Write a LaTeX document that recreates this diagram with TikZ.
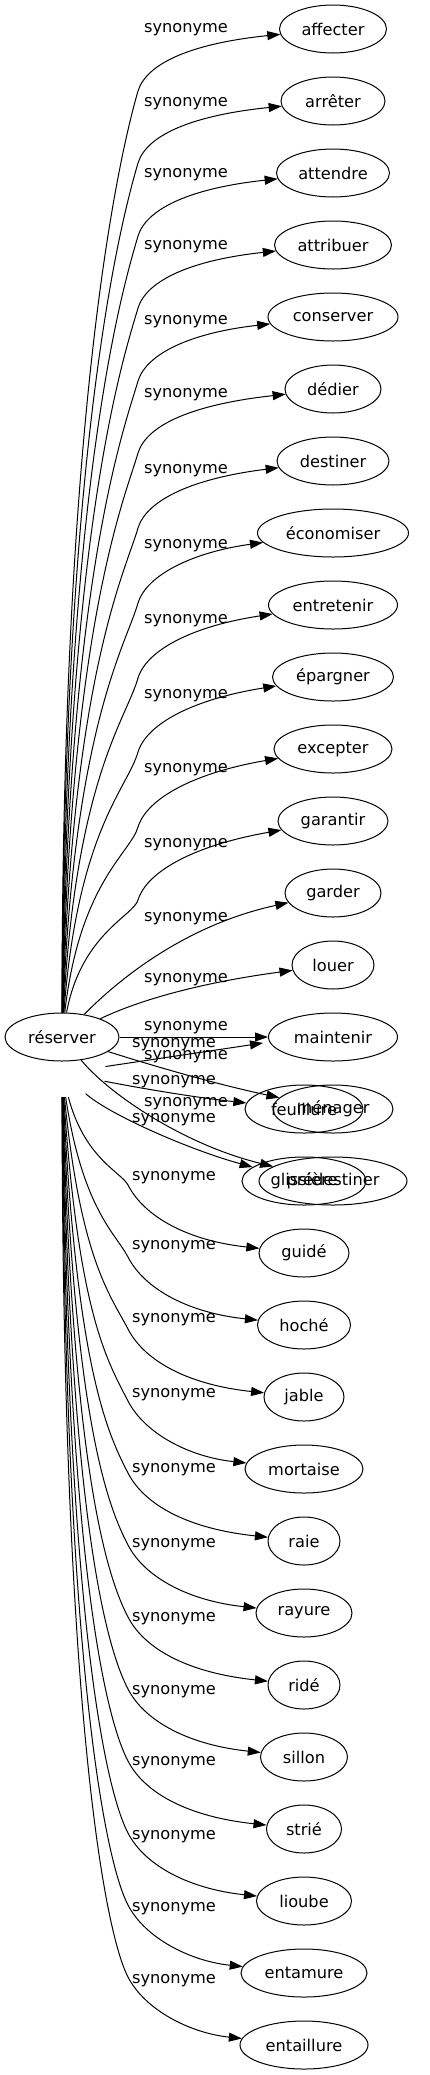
\documentclass[tikz,border=0pt]{standalone}
\usepackage{fontspec}
\setmainfont{DejaVu Sans}
\usetikzlibrary{arrows.meta,shapes.geometric}
\tikzset{
  word/.style={draw, ellipse, minimum height=48pt, inner sep=0pt, line width=1pt,
    font=\fontsize{16.2}{19}\selectfont},
  lab/.style={anchor=base, inner sep=0pt, font=\fontsize{16.2}{19}\selectfont},
  syn/.style={line width=1pt, -{Triangle[length=13pt,width=9pt]}},
}
% upper fan: target, target y, knee shift
\newcommand\synA[3]{%
  \pgfmathsetmacro\kY{#2+62+#3}%
  \pgfmathsetmacro\hH{1013-\kY}%
  \pgfmathsetmacro\fF{min(1,\hH/300)}%
  \pgfmathsetmacro\pX{62+max(0,22*(1-\hH/900))}%
  \pgfmathsetmacro\pY{1013-0.7*\hH}%
  \pgfmathsetmacro\qX{138-12*\fF}%
  \pgfmathsetmacro\qY{\kY+42*\fF}%
  \pgfmathsetmacro\rY{#2+33+#3}%
  \pgfmathsetmacro\sY{#2+14+0.6*#3}%
  \draw[syn] (r) .. controls (\pX,\pY) and (\qX,\qY) .. (138,\kY) .. controls (147,\rY) and (195,\sY) .. (#1);%
}
% lower fan: target, target y
\newcommand\synB[2]{%
  \pgfmathsetmacro\kY{#2-68}%
  \pgfmathsetmacro\hH{\kY-1097}%
  \pgfmathsetmacro\fF{min(1,\hH/300)}%
  \pgfmathsetmacro\pX{62+max(0,25*(1-\hH/900))}%
  \pgfmathsetmacro\pY{1097+0.7*\hH}%
  \pgfmathsetmacro\qX{128-23*\fF}%
  \pgfmathsetmacro\qY{\kY-44*\fF}%
  \pgfmathsetmacro\rY{#2-35}%
  \pgfmathsetmacro\sY{#2-12}%
  \draw[syn] (src2) .. controls (\pX,\pY) and (\qX,\qY) .. (128,\kY) .. controls (145,\rY) and (190,\sY) .. (#1);%
}
\begin{document}
\begin{tikzpicture}[x=1pt,y=-1pt]
\useasboundingbox (0,0) rectangle (429,2075);

% source nodes
\node[word, minimum width=114pt] (r) at (62,1037) {réserver};
\node[ellipse, minimum width=90pt, minimum height=48pt, inner sep=0pt] (src2) at (62,1073) {};
\coordinate (bx) at (263,1043);

% first group of targets
\node[word, minimum width=107pt] (a0) at (333,29) {affecter};
\node[word, minimum width=104pt] (a1) at (333,101) {arrêter};
\node[word, minimum width=113pt] (a2) at (333,173) {attendre};
\node[word, minimum width=117pt] (a3) at (333,245) {attribuer};
\node[word, minimum width=130pt] (a4) at (333,317) {conserver};
\node[word, minimum width=96pt] (a5) at (333,389) {dédier};
\node[word, minimum width=112pt] (a6) at (333,461) {destiner};
\node[word, minimum width=151pt] (a7) at (333,533) {économiser};
\node[word, minimum width=129pt] (a8) at (333,605) {entretenir};
\node[word, minimum width=121pt] (a9) at (333,677) {épargner};
\node[word, minimum width=118pt] (a10) at (333,749) {excepter};
\node[word, minimum width=110pt] (a11) at (333,821) {garantir};
\node[word, minimum width=96pt] (a12) at (333,893) {garder};
\node[word, minimum width=82pt] (a13) at (333,965) {louer};
\node[word, minimum width=129pt] (a14) at (333,1037) {maintenir};
\node[word, minimum width=120pt] (a15) at (333,1109) {ménager};
\node[word, minimum width=148pt] (a16) at (333,1181) {prédestiner};

% second group of targets
\node[word, minimum width=118pt] (b15) at (304,1109) {feuillure};
\node[word, minimum width=124pt] (b16) at (304,1181) {glissière};
\node[word, minimum width=90pt] (b17) at (304,1253) {guidé};
\node[word, minimum width=93pt] (b18) at (304,1325) {hoché};
\node[word, minimum width=80pt] (b19) at (304,1397) {jable};
\node[word, minimum width=118pt] (b20) at (304,1469) {mortaise};
\node[word, minimum width=72pt] (b21) at (304,1541) {raie};
\node[word, minimum width=96pt] (b22) at (304,1613) {rayure};
\node[word, minimum width=72pt] (b23) at (304,1685) {ridé};
\node[word, minimum width=87pt] (b24) at (304,1757) {sillon};
\node[word, minimum width=75pt] (b25) at (304,1829) {strié};
\node[word, minimum width=95pt] (b26) at (304,1901) {lioube};
\node[word, minimum width=126pt] (b27) at (304,1973) {entamure};
\node[word, minimum width=128pt] (b28) at (304,2045) {entaillure};

% labels
\foreach \yy [count=\i] in {28,101.5,173,245,320,393,469,544,619,694,768,843,917,978,1026,1055,1102}
  \node[lab] (la\i) at ({186},{\yy+4.5}) {synonyme};
\foreach \yy [count=\i] in {1043,1080,1118,1176,1245,1318,1393,1468,1543,1617,1690,1761,1835,1907,1979}
  \node[lab] (lb\i) at ({174},{\yy+4.5}) {synonyme};

% first fan
\synA{a0}{29}{0}
\synA{a1}{101}{0}
\synA{a2}{173}{1}
\synA{a3}{245}{1}
\synA{a4}{317}{2}
\synA{a5}{389}{2}
\synA{a6}{461}{5}
\synA{a7}{533}{8}
\synA{a8}{605}{11}
\synA{a9}{677}{13}
\synA{a10}{749}{16}
\synA{a11}{821}{17}
\draw[syn] (r) .. controls (118,980) and (185,925) .. (a12);
\draw[syn] (r) .. controls (150,995) and (220,980) .. (a13);
\draw[syn] (r) -- (a14);
\draw[syn] (r) .. controls (160,1068) and (220,1085) .. (a15);
\draw[syn] (r) .. controls (110,1095) and (185,1145) .. (a16);

% second fan
\draw[syn] (src2) -- (bx);
\draw[syn] (src2) .. controls (150,1090) and (200,1098) .. (b15);
\draw[syn] (src2) .. controls (110,1115) and (190,1150) .. (b16);
\synB{b17}{1253}
\synB{b18}{1325}
\synB{b19}{1397}
\synB{b20}{1469}
\synB{b21}{1541}
\synB{b22}{1613}
\synB{b23}{1685}
\synB{b24}{1757}
\synB{b25}{1829}
\synB{b26}{1901}
\synB{b27}{1973}
\synB{b28}{2045}
\end{tikzpicture}
\end{document}
